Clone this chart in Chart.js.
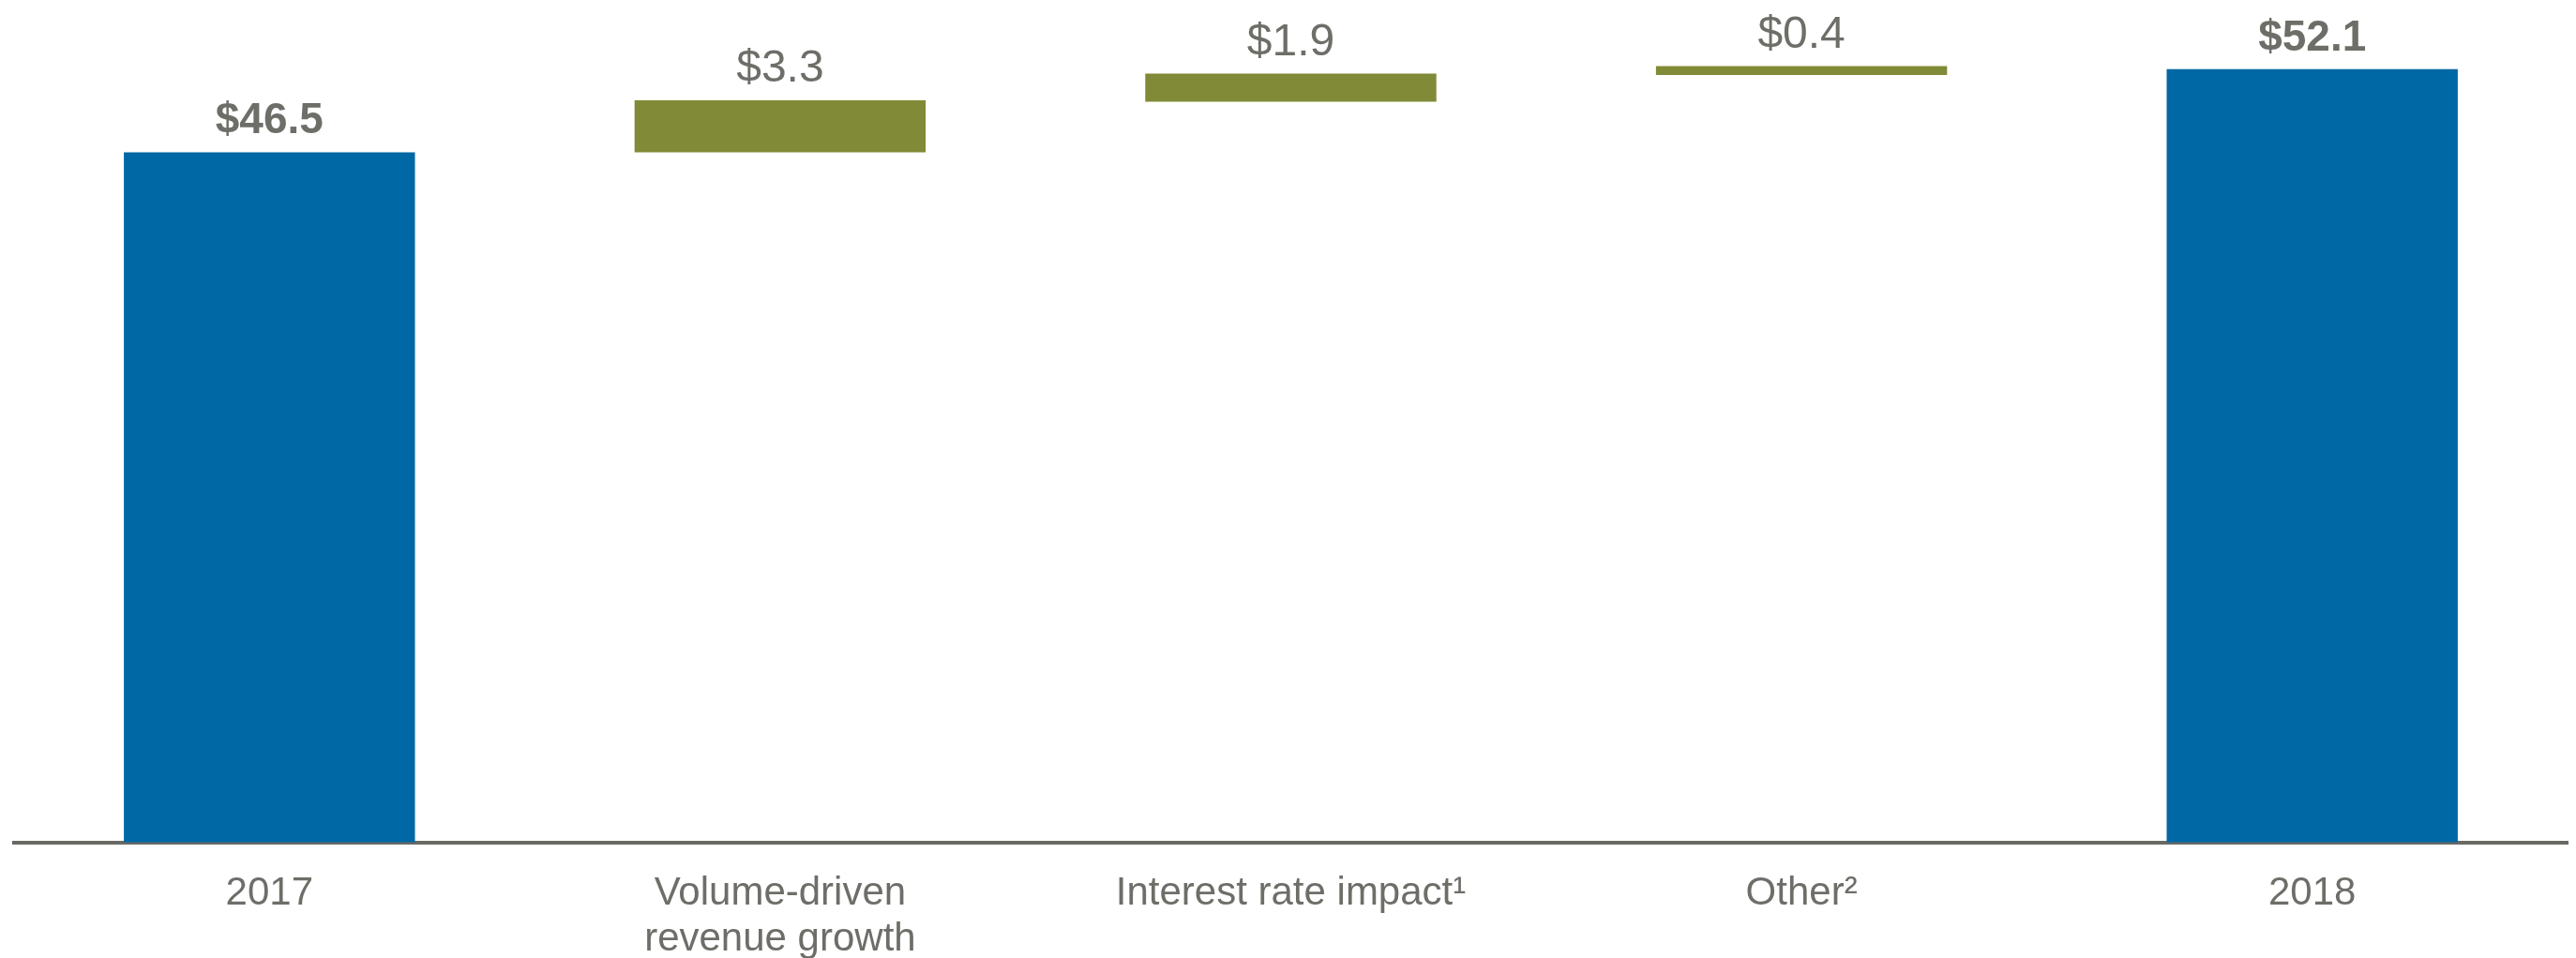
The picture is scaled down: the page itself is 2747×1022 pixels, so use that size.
<!DOCTYPE html>
<html>
<head>
<meta charset="utf-8">
<script src="https://cdn.jsdelivr.net/npm/chart.js@4/dist/chart.umd.min.js"></script>
<style>
  html, body { margin: 0; padding: 0; background: #ffffff; overflow: hidden; }
  #wrap { width: 2747px; height: 1022px; position: relative; }
</style>
</head>
<body>
<div id="wrap"><canvas id="c"></canvas></div>
<script>
// ---- Data ----
const categories = ['2017', ['Volume-driven', 'revenue growth'], 'Interest rate impact\u00B9', 'Other\u00B2', '2018'];
const barLow  = [0,    46.5, 49.9, 51.7, 0];
const barHigh = [46.5, 50.0, 51.8, 52.3, 52.1];
const valueLabels = ['$46.5', '$3.3', '$1.9', '$0.4', '$52.1'];
const isTotal = [true, false, false, false, true];
const yMin = 0;
const yMax = 56;

// ---- Styles ----
const BLUE = '#0068a5';
const GREEN = '#818a37';
const TEXT = '#6e6e69';
const FONT = "'Liberation Sans', Arial, sans-serif";

const ranges = barLow.map((lo, i) => [lo, barHigh[i]]);
const colors = isTotal.map(t => t ? BLUE : GREEN);

const valueLabelPlugin = {
  id: 'valueLabels',
  afterDatasetsDraw(chart) {
    const ctx = chart.ctx;
    const meta = chart.getDatasetMeta(0);
    ctx.save();
    ctx.textAlign = 'center';
    ctx.textBaseline = 'alphabetic';
    ctx.fillStyle = TEXT;
    meta.data.forEach((el, i) => {
      const top = Math.min(el.y, el.base);
      ctx.font = (isTotal[i] ? 'bold 46px ' : '48px ') + FONT;
      ctx.fillText(valueLabels[i], el.x, top - 20);
    });
    ctx.restore();
  }
};

new Chart(document.getElementById('c'), {
  type: 'bar',
  data: {
    labels: categories,
    datasets: [{
      data: ranges,
      backgroundColor: colors,
      borderWidth: 0,
      categoryPercentage: 1.0,
      barPercentage: 0.57
    }]
  },
  options: {
    responsive: true,
    maintainAspectRatio: false,
    animation: false,
    layout: { padding: { top: 12, left: 15, right: 9, bottom: -35 } },
    plugins: {
      legend: { display: false },
      tooltip: { enabled: false },
      title: { display: false }
    },
    scales: {
      x: {
        grid: { display: false, drawTicks: false },
        border: { display: true, color: '#6a6a65', width: 4 },
        ticks: {
          color: TEXT,
          padding: 30,
          maxRotation: 0,
          autoSkip: false,
          font: { family: FONT, size: 42, lineHeight: 1.17 }
        }
      },
      y: {
        display: false,
        min: yMin,
        max: yMax
      }
    }
  },
  plugins: [valueLabelPlugin]
});
</script>
</body>
</html>
